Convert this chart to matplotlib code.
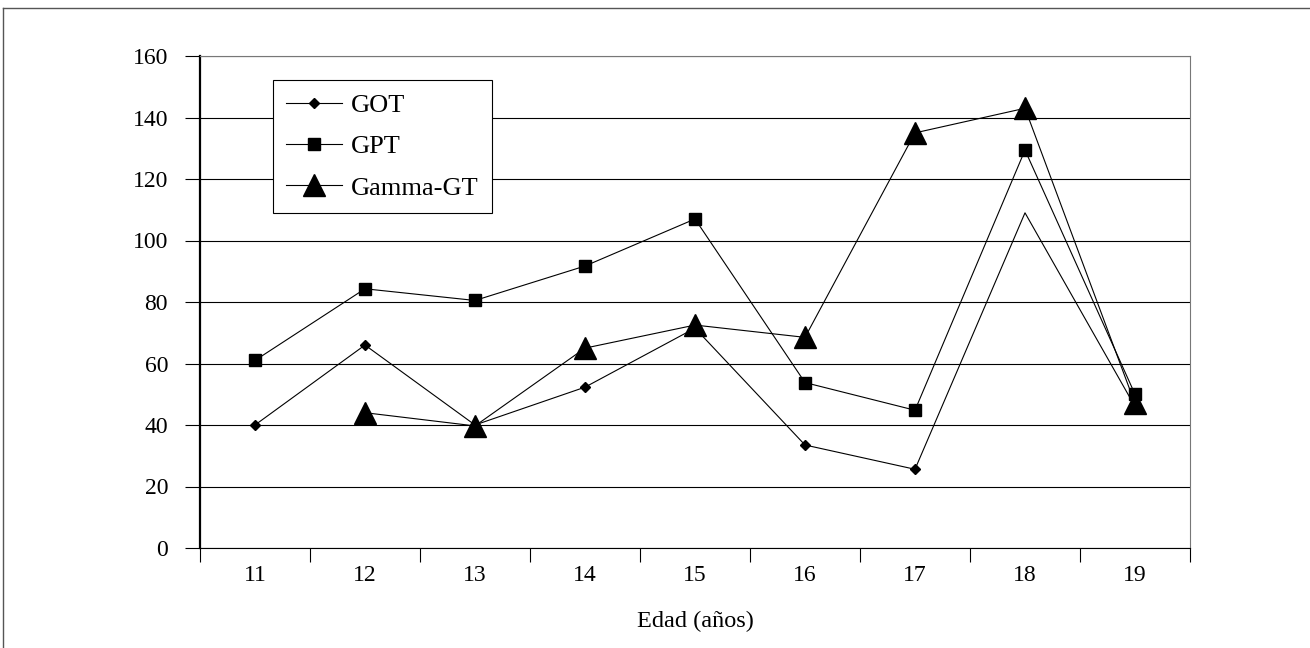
import matplotlib
matplotlib.use("Agg")
import matplotlib.pyplot as plt
from matplotlib.lines import Line2D
import numpy as np

# edades y valores medios de enzimas hepáticas
edades = ["11", "12", "13", "14", "15", "16", "17", "18", "19"]
got = [40, 66, 40, 52.3, 71.5, 33.5, 25.6, 109, 46]
gpt = [61, 84.3, 80.5, 91.7, 107, 53.8, 44.8, 129.4, 50]
gamma_gt = [np.nan, 44, 39.7, 65, 72.5, 68.5, 135, 143, 47]

plt.rcParams['font.family'] = ['Liberation Serif', 'DejaVu Serif']

fig = plt.figure(figsize=(13.1, 6.48), dpi=100)
ax = fig.add_axes([200/1310, 100/648, 990/1310, 492/648])

x = np.arange(len(edades))
ax.plot(x, got, color='black', lw=0.8, marker='D', ms=5, label='GOT',
        markevery=[0, 1, 2, 3, 4, 5, 6, 8])
ax.plot(x, gpt, color='black', lw=0.8, marker='s', ms=8, label='GPT')
ax.plot(x, gamma_gt, color='black', lw=0.8, marker='^', ms=16, label='Gamma-GT')

ax.set_xlim(-0.5, len(edades) - 0.5)
ax.set_ylim(0, 160)
ax.set_yticks(np.arange(0, 161, 20))
ax.yaxis.grid(True, color='black', lw=0.8)
ax.set_axisbelow(True)

ax.set_xticks(x)
ax.set_xticklabels(edades)
ax.set_xticks(np.arange(-0.5, len(edades)), minor=True)
ax.tick_params(axis='x', which='major', length=0, pad=12, labelsize=17)
ax.tick_params(axis='x', which='minor', length=10, width=0.8, direction='out')
ax.tick_params(axis='y', length=11, width=0.8, direction='out', pad=12, labelsize=17)

for side in ['top', 'right']:
    ax.spines[side].set_color('#777777')
    ax.spines[side].set_linewidth(0.8)
ax.spines['left'].set_linewidth(1.6)
ax.spines['bottom'].set_linewidth(0.8)

ax.set_xlabel('Edad (años)', fontsize=17.5, labelpad=18)

leg = ax.legend(loc='upper left', bbox_to_anchor=(0.074, 0.951), borderaxespad=0,
                fontsize=19, handlelength=2.1, handletextpad=0.35, fancybox=False,
                framealpha=1, edgecolor='black', borderpad=0.5, labelspacing=0.68)
leg.get_frame().set_linewidth(0.8)

# marco exterior
fig.add_artist(Line2D([3/1310, 3/1310], [0, 1 - 8/648], color='#555555', lw=1))
fig.add_artist(Line2D([3/1310, 1], [1 - 8/648, 1 - 8/648], color='#555555', lw=1))

fig.savefig('out.png', dpi=100)
